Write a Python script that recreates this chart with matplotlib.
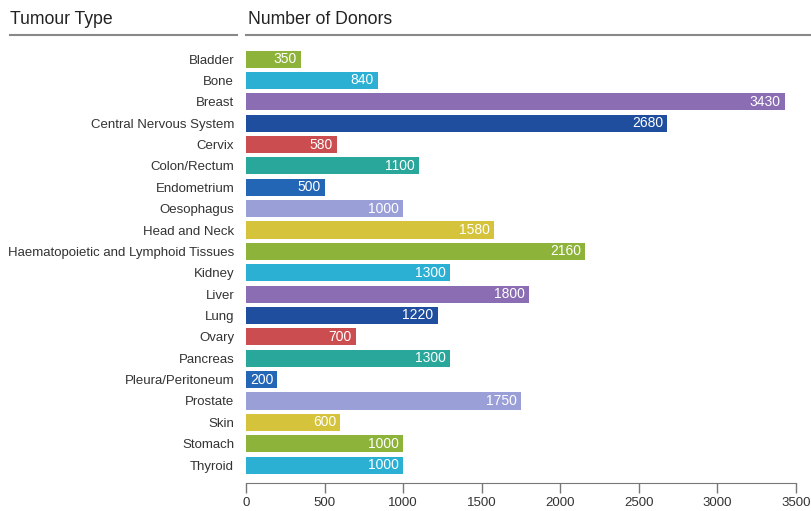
import matplotlib.pyplot as plt
from matplotlib.lines import Line2D

plt.rcParams["font.family"] = ["Liberation Sans", "DejaVu Sans"]

# Data
tumour_types = [
    "Bladder", "Bone", "Breast", "Central Nervous System", "Cervix",
    "Colon/Rectum", "Endometrium", "Oesophagus", "Head and Neck",
    "Haematopoietic and Lymphoid Tissues", "Kidney", "Liver", "Lung",
    "Ovary", "Pancreas", "Pleura/Peritoneum", "Prostate", "Skin",
    "Stomach", "Thyroid",
]
donors = [350, 840, 3430, 2680, 580, 1100, 500, 1000, 1580, 2160,
          1300, 1800, 1220, 700, 1300, 200, 1750, 600, 1000, 1000]

# colour cycle used by the bars (repeats every 9)
palette = ["#8db33a", "#2bb0d4", "#8a6db3", "#1f4e9e", "#cc4d4f",
           "#2aa79b", "#2366b5", "#9b9fd8", "#d6c33c"]
xticks = [0, 500, 1000, 1500, 2000, 2500, 3000, 3500]

fig = plt.figure(figsize=(8.12, 5.11), dpi=100)
W, H = 812, 511
ax = fig.add_axes([246 / W, 1 - 483 / H, 550 / W, (483 - 45) / H])

ypos = list(range(len(tumour_types)))
colors = [palette[i % len(palette)] for i in ypos]
bars = ax.barh(ypos, donors, height=0.8, color=colors)

for bar, val in zip(bars, donors):
    ax.annotate(str(val), (bar.get_width(), bar.get_y() + bar.get_height() / 2),
                xytext=(-3, 0), textcoords="offset points", ha="right",
                va="center", color="white", fontsize=10)

ax.set_xlim(0, 3500)
ax.set_ylim(19.84, -0.66)
ax.set_yticks(ypos)
ax.set_yticklabels(tumour_types, fontsize=9.5, color="#333333")
ax.set_xticks(xticks)
ax.set_xticklabels([str(t) for t in xticks], fontsize=9.5, color="#333333")
ax.tick_params(axis="y", left=False, pad=5)
ax.tick_params(axis="x", direction="out", length=7, width=1,
               color="#777777", pad=3)
for side in ["top", "right", "left"]:
    ax.spines[side].set_visible(False)
ax.spines["bottom"].set_color("#777777")

# column headers with underlines
fig.text(10 / W, 1 - 20 / H, "Tumour Type", fontsize=12.7, va="center", color="#222222")
fig.text(248 / W, 1 - 20 / H, "Number of Donors", fontsize=12.7, va="center", color="#222222")
y_line = 1 - 35 / H
fig.add_artist(Line2D([10 / W, 237 / W], [y_line, y_line], color="#888888", lw=1.5))
fig.add_artist(Line2D([246 / W, 1.0], [y_line, y_line], color="#888888", lw=1.5))

fig.savefig("out.png", dpi=100)
